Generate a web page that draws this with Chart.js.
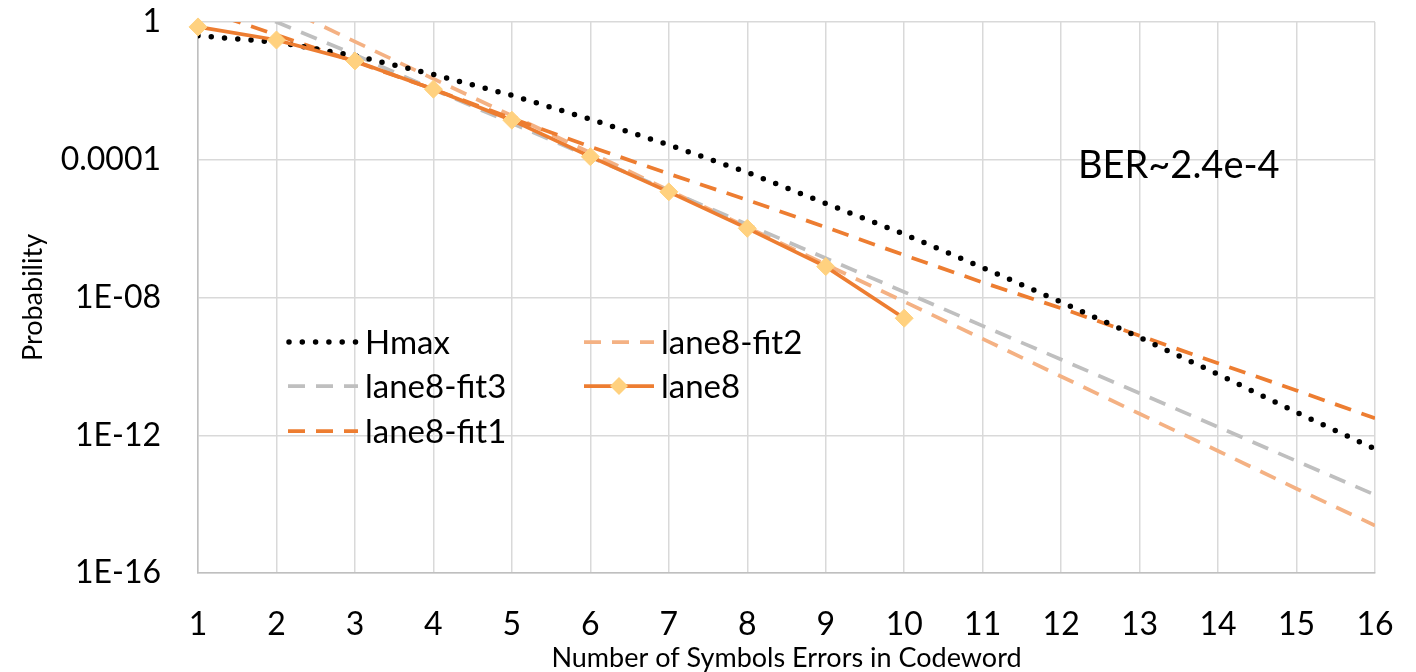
<!DOCTYPE html>
<html>
<head>
<meta charset="utf-8">
<script src="https://cdn.jsdelivr.net/npm/chart.js@4.4.1/dist/chart.umd.min.js"></script>
<style>
html,body{margin:0;padding:0;background:#ffffff;}
#wrap{width:1416px;height:672px;position:relative;}
</style>
</head>
<body>
<div id="wrap"><canvas id="c" width="1416" height="672"></canvas></div>
<script>
// ---- data ----
const errorCounts = [1,2,3,4,5,6,7,8,9,10,11,12,13,14,15,16];
const hmax      = [0.40, 0.26, 0.105, 0.030, 7.4e-3, 1.5e-3, 2.7e-4, 4.3e-5, 5.4e-6, 6.9e-7, 7.4e-8, 7.4e-9, 6.9e-10, 5.9e-11, 4.6e-12, 4.0e-13];
const lane8     = [0.72, 0.30, 0.074, 0.0112, 1.41e-3, 1.23e-4, 1.17e-5, 1.02e-6, 7.9e-8, 2.5e-9];
const lane8Fit1 = [2.5, 0.42, 0.071, 0.0112, 1.58e-3, 2.4e-4, 3.9e-5, 6.8e-6, 1.1e-6, 1.7e-7, 2.75e-8, 4.9e-9, 7.8e-10, 1.23e-10, 2.0e-11, 3.1e-12];
const lane8Fit2 = [40, 3.3, 0.27, 0.0224, 1.9e-3, 1.6e-4, 1.3e-5, 1.1e-6, 9.1e-8, 7.6e-9, 6.3e-10, 5.1e-11, 4.2e-12, 3.5e-13, 2.8e-14, 2.4e-15];
const lane8Fit3 = [9.5, 1.0, 0.112, 0.011, 1.15e-3, 1.2e-4, 1.26e-5, 1.32e-6, 1.38e-7, 1.45e-8, 1.5e-9, 1.58e-10, 1.66e-11, 1.74e-12, 1.78e-13, 1.86e-14];
const yTickValues = [1, 1e-4, 1e-8, 1e-12, 1e-16];
const yTickLabels = ['1', '0.0001', '1E-08', '1E-12', '1E-16'];
const xTitle = 'Number of Symbols Errors in Codeword';
const yTitle = 'Probability';
const annotationText = 'BER~2.4e-4';

const FONT = 'Lato';
const toPts = arr => arr.map((v, i) => ({x: errorCounts[i], y: v}));

const styles = {
  hmax:  {color:'#000000', width:5.5, dash:[0, 13.3], cap:'round'},
  fit1:  {color:'#ED7D31', width:3.75, dash:[17, 11], cap:'butt'},
  fit2:  {color:'#F4B183', width:3.75, dash:[17, 11], cap:'butt'},
  fit3:  {color:'#BFBFBF', width:3.75, dash:[17, 11], cap:'butt'},
  lane8: {color:'#ED7D31', width:3.75, dash:[], cap:'butt', marker:'#FFD17F'}
};

const datasets = [
  {label:'lane8', data: toPts(lane8), borderColor: styles.lane8.color, borderWidth: styles.lane8.width,
   pointStyle:'rectRot', pointRadius:9, pointBackgroundColor: styles.lane8.marker, pointBorderColor: styles.lane8.marker,
   pointBorderWidth:1, tension:0, clip:{left:20, top:20, right:0, bottom:0}},
  {label:'Hmax', data: toPts(hmax), borderColor: styles.hmax.color, borderWidth: styles.hmax.width,
   borderDash: styles.hmax.dash, borderCapStyle:'round', pointRadius:0, tension:0, clip:0},
  {label:'lane8-fit1', data: toPts(lane8Fit1), borderColor: styles.fit1.color, borderWidth: styles.fit1.width,
   borderDash: styles.fit1.dash, pointRadius:0, tension:0, clip:0},
  {label:'lane8-fit3', data: toPts(lane8Fit3), borderColor: styles.fit3.color, borderWidth: styles.fit3.width,
   borderDash: styles.fit3.dash, pointRadius:0, tension:0, clip:0},
  {label:'lane8-fit2', data: toPts(lane8Fit2), borderColor: styles.fit2.color, borderWidth: styles.fit2.width,
   borderDash: styles.fit2.dash, pointRadius:0, tension:0, clip:0}
];

const legendLayout = [
  {label:'Hmax',       style:styles.hmax,  x:288, y:342},
  {label:'lane8-fit2', style:styles.fit2,  x:584, y:342},
  {label:'lane8-fit3', style:styles.fit3,  x:288, y:386},
  {label:'lane8',      style:styles.lane8, x:584, y:386},
  {label:'lane8-fit1', style:styles.fit1,  x:288, y:431}
];

const overlayPlugin = {
  id:'overlay',
  afterDraw(chart){
    const ctx = chart.ctx;
    ctx.save();
    legendLayout.forEach(it => {
      const s = it.style;
      ctx.save();
      ctx.strokeStyle = s.color;
      ctx.lineWidth = s.width;
      ctx.lineCap = s.cap;
      ctx.setLineDash(s.dash);
      ctx.beginPath();
      const x0 = s.cap === 'round' ? it.x + 1 : it.x;
      ctx.moveTo(x0, it.y);
      ctx.lineTo(it.x + 70, it.y);
      ctx.stroke();
      ctx.restore();
      if (s.marker) {
        const cx = it.x + 35, r = 9;
        ctx.save();
        ctx.fillStyle = s.marker;
        ctx.beginPath();
        ctx.moveTo(cx, it.y - r); ctx.lineTo(cx + r, it.y); ctx.lineTo(cx, it.y + r); ctx.lineTo(cx - r, it.y);
        ctx.closePath(); ctx.fill();
        ctx.restore();
      }
      ctx.fillStyle = '#000000';
      ctx.font = '33px ' + FONT;
      ctx.textBaseline = 'middle';
      ctx.textAlign = 'left';
      ctx.fillText(it.label, it.x + 77, it.y + 1);
    });
    ctx.fillStyle = '#000000';
    ctx.font = '38px ' + FONT;
    ctx.textBaseline = 'alphabetic';
    ctx.textAlign = 'left';
    ctx.fillText(annotationText, 1078, 178);
    ctx.restore();
  }
};

new Chart(document.getElementById('c'), {
  type:'line',
  data:{datasets},
  options:{
    responsive:false,
    animation:false,
    events:[],
    layout:{padding:{top:22, right:41, left:0, bottom:0}},
    plugins:{legend:{display:false}, tooltip:{enabled:false}},
    scales:{
      x:{
        type:'linear', min:1, max:16,
        afterFit(s){ s.height = 99; s.paddingLeft = 0; s.paddingRight = 0; },
        ticks:{stepSize:1, color:'#000000', font:{family:FONT, size:32}, padding:32, maxRotation:0, autoSkip:false},
        grid:{color:'#D9D9D9', lineWidth:1.5, drawTicks:false},
        border:{color:'#BFBFBF', width:1.5},
        title:{display:true, text:xTitle, color:'#000000', font:{family:FONT, size:27}, padding:{top:0, bottom:-2}}
      },
      y:{
        type:'logarithmic', min:1e-16, max:1,
        afterFit(s){ s.width = 198; s.paddingTop = 0; s.paddingBottom = 0; },
        afterBuildTicks(s){ s.ticks = yTickValues.slice().reverse().map(v => ({value:v})); },
        ticks:{color:'#000000', font:{family:FONT, size:32}, padding:37,
          callback:(v) => { const i = yTickValues.findIndex(t => Math.abs(Math.log10(t) - Math.log10(v)) < 1e-6); return i >= 0 ? yTickLabels[i] : ''; }},
        grid:{color:'#D9D9D9', lineWidth:1.5, drawTicks:false},
        border:{color:'#BFBFBF', width:1.5},
        title:{display:true, text:yTitle, color:'#000000', font:{family:FONT, size:27}, padding:{top:17, bottom:0}}
      }
    }
  },
  plugins:[overlayPlugin]
});
</script>
</body>
</html>
